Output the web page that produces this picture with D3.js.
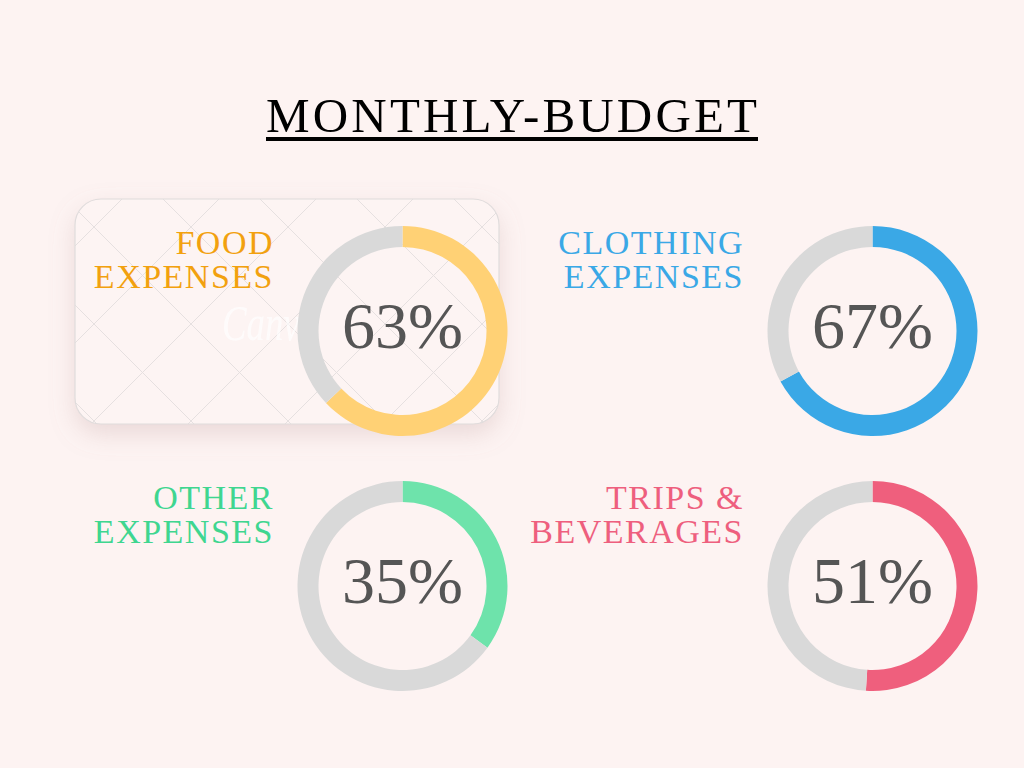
<!DOCTYPE html>
<html lang="en">
<head>
  <meta charset="UTF-8" />
  <title>Monthly Budget</title>
  <script src="https://d3js.org/d3.v7.min.js"></script>
<style>
html, body { margin: 0; padding: 0; background: #fdf3f2; }
svg { display: block; }
.title { font-family: 'Liberation Serif', serif; fill: #000; }
.label { font-family: 'Liberation Serif', serif; letter-spacing: 1.5px; }
.pct { font-family: 'Liberation Serif', serif; fill: #555555; }
</style>
</head>
<body>
<div id="chart"></div>
<script>
// --- data ---
const title = "MONTHLY-BUDGET";
const labelLines = [["FOOD", "EXPENSES"], ["CLOTHING", "EXPENSES"], ["OTHER", "EXPENSES"], ["TRIPS &", "BEVERAGES"]];
const percents = [63, 67, 35, 51];
const ringColors = ["#ffd175", "#3aa8e6", "#6ee3ab", "#ef5f7d"];
const labelColors = ["#f2a10f", "#3aa8e6", "#3fd690", "#ee5f7e"];
const trackColor = "#d9d9d9";

const width = 1024, height = 768;

const svg = d3.select("#chart").append("svg")
  .attr("width", width)
  .attr("height", height);

svg.append("rect").attr("width", width).attr("height", height).attr("fill", "#fdf3f2");

const defs = svg.append("defs");
const shadow = defs.append("filter").attr("id", "cardShadow")
  .attr("x", "-20%").attr("y", "-20%").attr("width", "140%").attr("height", "150%");
shadow.append("feDropShadow")
  .attr("dx", 0).attr("dy", 10).attr("stdDeviation", 12)
  .attr("flood-color", "#b08a8a").attr("flood-opacity", 0.25);

defs.append("clipPath").attr("id", "cardClip")
  .append("rect").attr("x", 75).attr("y", 199).attr("width", 424).attr("height", 225).attr("rx", 26);

// --- title ---
svg.append("text")
  .attr("class", "title")
  .attr("x", 266).attr("y", 132)
  .attr("font-size", 49)
  .attr("textLength", 491)
  .attr("lengthAdjust", "spacing")
  .text(title);

svg.append("rect")
  .attr("x", 266).attr("y", 137)
  .attr("width", 492).attr("height", 4)
  .attr("fill", "#000");

// --- highlighted card behind the first item ---
svg.append("rect")
  .attr("x", 75).attr("y", 199).attr("width", 424).attr("height", 225).attr("rx", 26)
  .attr("fill", "#fdf4f3")
  .attr("filter", "url(#cardShadow)");

const grid = svg.append("g").attr("clip-path", "url(#cardClip)")
  .attr("stroke", "#e6e0e0").attr("stroke-width", 1);
for (let c = -230 - 97 * 6; c < 400; c += 97) {
  grid.append("line").attr("x1", 0).attr("y1", -c).attr("x2", 600).attr("y2", 600 - c);
}
for (let c = 515 - 97 * 4; c < 1100; c += 97) {
  grid.append("line").attr("x1", 0).attr("y1", c).attr("x2", 600).attr("y2", c - 600);
}

// faint watermark
svg.append("text")
  .attr("x", 222).attr("y", 340)
  .attr("font-family", "'Liberation Serif', serif")
  .attr("font-style", "italic")
  .attr("font-size", 50)
  .attr("textLength", 96)
  .attr("lengthAdjust", "spacingAndGlyphs")
  .attr("fill", "#ffffff").attr("opacity", 0.7)
  .text("Canva");

svg.append("rect")
  .attr("x", 75).attr("y", 199).attr("width", 424).attr("height", 225).attr("rx", 26)
  .attr("fill", "none")
  .attr("stroke", "#e0dcdc").attr("stroke-width", 1.2);

// --- donut layout ---
const xCol = d3.scalePoint().domain([0, 1]).range([402.5, 872.5]);
const yRow = d3.scalePoint().domain([0, 1]).range([331, 586]);

const pie = d3.pie().sort(null).value(d => d);
const arc = d3.arc().innerRadius(84).outerRadius(105);

percents.forEach((p, i) => {
  const cx = xCol(i % 2), cy = yRow(Math.floor(i / 2));
  const g = svg.append("g").attr("transform", `translate(${cx},${cy})`);

  g.selectAll("path")
    .data(pie([p, 100 - p]))
    .join("path")
    .attr("d", arc)
    .attr("fill", (d, j) => j === 0 ? ringColors[i] : trackColor);

  g.append("text")
    .attr("class", "pct")
    .attr("text-anchor", "middle")
    .attr("y", 17)
    .attr("font-size", 66)
    .text(p + "%");

  // label to the left of the donut, right aligned
  labelLines[i].forEach((line, k) => {
    g.append("text")
      .attr("class", "label")
      .attr("text-anchor", "end")
      .attr("x", -128.5)
      .attr("y", k === 0 ? -77 : -43)
      .attr("font-size", 34)
      .attr("fill", labelColors[i])
      .text(line);
  });
});
</script>
</body>
</html>
